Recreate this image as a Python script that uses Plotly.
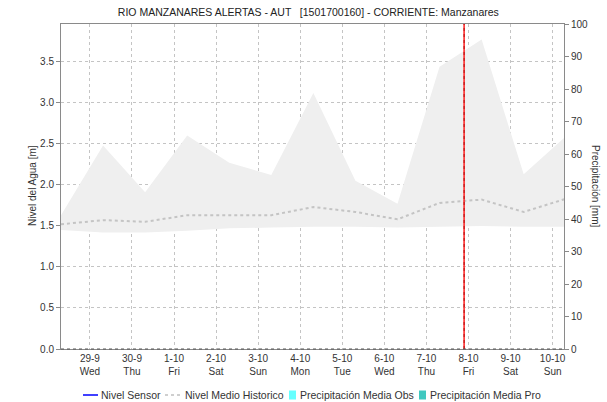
import pandas as pd
import plotly.graph_objects as go

# Daily sample times (hydrological day starting 07:30)
sample_times = pd.date_range("2021-09-28 07:30", periods=13, freq="D")

# Historic envelope of the water level [m]
band_upper = [1.63, 2.48, 1.91, 2.60, 2.27, 2.12, 3.12, 2.05, 1.77, 3.44, 3.77, 2.13, 2.59]
band_lower = [1.45, 1.42, 1.42, 1.44, 1.47, 1.48, 1.49, 1.49, 1.48, 1.49, 1.50, 1.49, 1.49]

# Historic mean water level [m]
nivel_medio = [1.52, 1.57, 1.55, 1.63, 1.63, 1.63, 1.73, 1.67, 1.58, 1.78, 1.82, 1.67, 1.83]

# Sensor level and precipitation (no readings in this window)
nivel_sensor = [None]
precip_obs = [0]
precip_pro = [0]
empty_times = [pd.Timestamp("2021-10-07 21:30")]

# Current time marker
now_time = pd.Timestamp("2021-10-07 21:30")

# Axis ranges and day ticks
x_range = [pd.Timestamp("2021-09-28 07:30"), pd.Timestamp("2021-10-10 06:30")]
y_max = 3.96
day_ticks = pd.date_range("2021-09-29", "2021-10-10", freq="D")
day_names = ["Wed", "Thu", "Fri", "Sat", "Sun", "Mon", "Tue", "Wed", "Thu", "Fri", "Sat", "Sun"]
day_labels = [f"{d.day}-{d.month}<br>{n}" for d, n in zip(day_ticks, day_names)]

# Legend entries
legend_names = ["Nivel Sensor", "Nivel Medio Historico",
                "Precipitación Media Obs", "Precipitación Media Pro"]
legend_kinds = ["line", "dash", "box", "box"]
legend_colors = ["#0000ff", "#c0c0c0", "#66ffff", "#40c8c0"]

FONT = "Liberation Sans, Arial, sans-serif"
GRID = "#c4c4c4"
AXIS = "#8a8a8a"
TXT = "#333333"

W, H = 607, 402
L, R, T, B = 61, 43, 24, 53
PW, PH = W - L - R, H - T - B


def px(x):
    return (x - L) / PW


def py(y):
    return (H - B - y) / PH


fig = go.Figure()

# Envelope polygon
fig.add_trace(go.Scatter(
    x=list(sample_times) + list(sample_times[::-1]),
    y=band_upper + band_lower[::-1],
    fill="toself", fillcolor="#efefef", mode="lines",
    line=dict(width=0), hoverinfo="skip", showlegend=False,
))

fig.add_trace(go.Scatter(
    x=empty_times, y=nivel_sensor, mode="lines", name=legend_names[0],
    line=dict(color=legend_colors[0], width=1.5),
))

fig.add_trace(go.Scatter(
    x=sample_times, y=nivel_medio, mode="lines", name=legend_names[1],
    line=dict(color="#c4c4c4", width=2, dash="dot"),
))

fig.add_trace(go.Bar(
    x=empty_times, y=precip_obs, name=legend_names[2],
    marker=dict(color=legend_colors[2]), yaxis="y2",
))
fig.add_trace(go.Bar(
    x=empty_times, y=precip_pro, name=legend_names[3],
    marker=dict(color=legend_colors[3]), yaxis="y2",
))

# Current time line
fig.add_trace(go.Scatter(
    x=[now_time, now_time], y=[0, y_max], mode="lines",
    line=dict(color="#ff2020", width=1.5), showlegend=False, hoverinfo="skip",
))
fig.add_trace(go.Scatter(
    x=[now_time, now_time], y=[0, y_max], mode="lines",
    line=dict(color="#b01010", width=1, dash="dot"), showlegend=False, hoverinfo="skip",
))

# Dotted baseline along the bottom axis
shapes = [dict(type="line", xref="paper", yref="paper", x0=0, x1=1, y0=0, y1=0,
               line=dict(color="#555555", width=1, dash="dot"), layer="above")]
annotations = []

# Legend drawn below the plot
legend_x = [83, 165, 289, 419]
legend_y = 395
for xs, name, kind, col in zip(legend_x, legend_names, legend_kinds, legend_colors):
    if kind == "line":
        shapes.append(dict(type="line", xref="paper", yref="paper",
                           x0=px(xs), x1=px(xs + 15), y0=py(legend_y), y1=py(legend_y),
                           line=dict(color=col, width=1.5)))
        tx = xs + 16
    elif kind == "dash":
        shapes.append(dict(type="line", xref="paper", yref="paper",
                           x0=px(xs), x1=px(xs + 16), y0=py(legend_y), y1=py(legend_y),
                           line=dict(color=col, width=1.5, dash="3px,3px")))
        tx = xs + 18
    else:
        shapes.append(dict(type="rect", xref="paper", yref="paper",
                           x0=px(xs), x1=px(xs + 7), y0=py(legend_y - 4.5), y1=py(legend_y + 4.5),
                           line=dict(width=0), fillcolor=col))
        tx = xs + 9
    annotations.append(dict(text=name, xref="paper", yref="paper",
                            x=px(tx), y=py(legend_y), xanchor="left", yanchor="middle",
                            showarrow=False, font=dict(family=FONT, size=10.5, color=TXT)))

annotations += [
    dict(text="Nivel del Agua [m]", xref="paper", yref="paper",
         x=px(32), y=py(186), xanchor="center", yanchor="middle",
         textangle=-90, showarrow=False,
         font=dict(family=FONT, size=10, color=TXT)),
    dict(text="Precipitación [mm]", xref="paper", yref="paper",
         x=px(596), y=py(186), xanchor="center", yanchor="middle",
         textangle=90, showarrow=False,
         font=dict(family=FONT, size=10, color=TXT)),
]

fig.update_layout(
    width=W, height=H,
    margin=dict(l=L, r=R, t=T, b=B, autoexpand=False),
    paper_bgcolor="white", plot_bgcolor="white",
    font=dict(family=FONT, size=10, color=TXT),
    title=dict(
        text="RIO MANZANARES ALERTAS - AUT   [1501700160] - CORRIENTE: Manzanares",
        x=0.508, xanchor="center", y=0.969, yanchor="middle",
        font=dict(family=FONT, size=10.5, color="#222222"),
    ),
    xaxis=dict(
        range=x_range, tickvals=day_ticks, ticktext=day_labels,
        showgrid=True, gridcolor=GRID, griddash="dot", gridwidth=1,
        showline=True, linecolor=AXIS, linewidth=1, mirror=True,
        ticks="", tickfont=dict(size=10, color=TXT),
        zeroline=False, automargin=False,
    ),
    yaxis=dict(
        range=[0, y_max], dtick=0.5, tickformat=".1f",
        showgrid=True, gridcolor=GRID, griddash="dot", gridwidth=1,
        showline=True, linecolor=AXIS, linewidth=1,
        ticks="outside", ticklen=4, tickcolor=AXIS,
        tickfont=dict(size=10, color=TXT),
        zeroline=False, automargin=False,
    ),
    yaxis2=dict(
        range=[0, 100], dtick=10, overlaying="y", side="right",
        showgrid=False, showline=True, linecolor=AXIS, linewidth=1,
        ticks="outside", ticklen=4, tickcolor=AXIS,
        tickfont=dict(size=10, color=TXT),
        zeroline=False, automargin=False,
    ),
    showlegend=False,
    shapes=shapes,
    annotations=annotations,
)

fig.write_html("out.html")
